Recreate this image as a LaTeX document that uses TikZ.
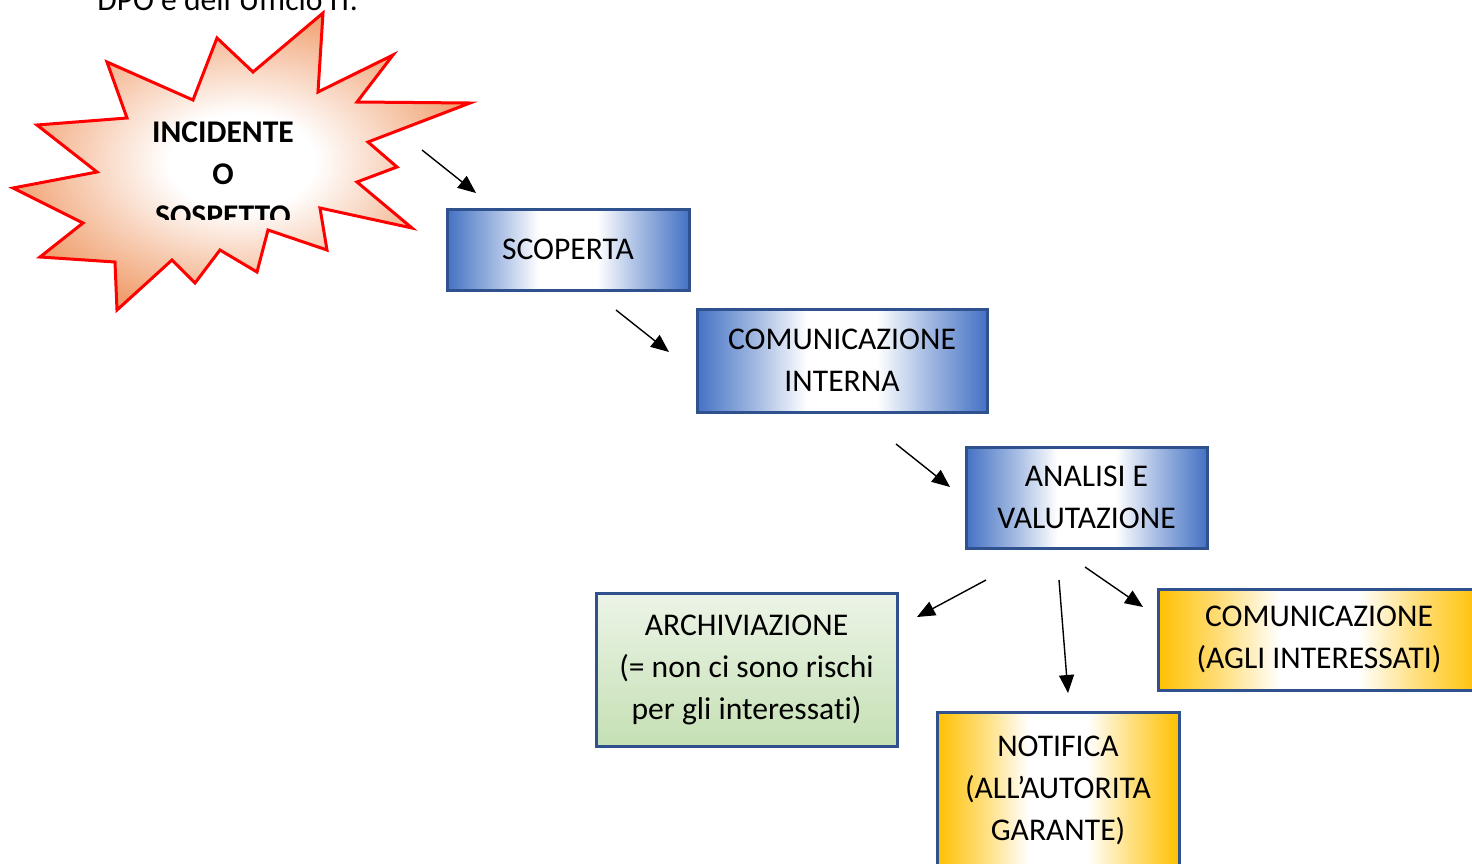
\documentclass[tikz,border=0pt]{standalone}
\usepackage{fontspec}
\setmainfont[Ligatures=NoCommon]{Carlito}
\usetikzlibrary{arrows.meta}
\definecolor{boxblue}{RGB}{68,114,196}
\definecolor{boxline}{RGB}{47,82,143}
\definecolor{boxgold}{RGB}{255,192,0}
\definecolor{greentop}{RGB}{236,244,231}
\definecolor{greenbot}{RGB}{197,224,180}
\definecolor{burstorange}{RGB}{240,160,112}
\colorlet{bluemid}{boxblue!50}
\colorlet{goldmid}{boxgold!50}
\pgfdeclarehorizontalshading{blueband}{100bp}{color(0bp)=(boxblue); color(25bp)=(boxblue); color(35bp)=(bluemid); color(44bp)=(white); color(56bp)=(white); color(65bp)=(bluemid); color(75bp)=(boxblue); color(100bp)=(boxblue)}
\pgfdeclarehorizontalshading{goldband}{100bp}{color(0bp)=(boxgold); color(25bp)=(boxgold); color(35bp)=(goldmid); color(44bp)=(white); color(56bp)=(white); color(65bp)=(goldmid); color(75bp)=(boxgold); color(100bp)=(boxgold)}
\pgfdeclareradialshading{burst}{\pgfpoint{0bp}{0bp}}{color(0bp)=(white); color(8bp)=(white); color(26bp)=(burstorange); color(50bp)=(burstorange)}

\begin{document}
\begin{tikzpicture}[x=0.5pt, y=-0.5pt,
  every node/.style={font=\fontsize{15.8}{21}\selectfont, align=center, inner sep=0pt},
  stepbox/.style={draw=boxline, line width=1.5pt},
  bluebox/.style={stepbox, shading=blueband},
  goldbox/.style={stepbox, shading=goldband},
  greenbox/.style={stepbox, top color=greentop, bottom color=greenbot},
  arr/.style={line width=0.7pt, -{Triangle[length=9pt,width=7.5pt]}}]
\useasboundingbox (0,0) rectangle (1472,863);

\node[anchor=base west] (dpo) at (97,10) {DPO e dell’Ufficio IT.};

% incidente
\shadedraw[shading=burst, draw=red, line width=1.5pt, line join=miter]
  (323,13) -- (318,92) -- (393,55) -- (357,102) -- (470,103) -- (368,142)
  -- (397,167) -- (357,182) -- (412,228) -- (320,208) -- (327,250) -- (268,230)
  -- (257,272) -- (220,250) -- (195,283) -- (172,260) -- (117,310) -- (115,262)
  -- (40,257) -- (83,223) -- (13,188) -- (97,172) -- (37,125) -- (127,118)
  -- (107,62) -- (193,100) -- (217,38) -- (253,72) -- cycle;
\begin{scope}
\clip (100,100) rectangle (350,219);
\node[font=\fontsize{15.8}{21}\selectfont\bfseries] (inc) at (223,174) {INCIDENTE\\O\\SOSPETTO};
\end{scope}

% fasi
\node[bluebox, minimum width=121pt, minimum height=40.5pt] (scop) at (568,249.5) {SCOPERTA};
\node[bluebox, minimum width=145pt, minimum height=51.5pt] (comint) at (842,360.5) {COMUNICAZIONE\\INTERNA};
\node[bluebox, minimum width=120.5pt, minimum height=50.5pt] (anal) at (1086.5,497.5) {ANALISI E\\VALUTAZIONE};
\node[greenbox, minimum width=150.5pt, minimum height=76.5pt] (arch) at (746.5,669.5) {ARCHIVIAZIONE\\(= non ci sono rischi\\per gli interessati)};
\node[goldbox, minimum width=161pt, minimum height=50.5pt] (comint2) at (1319,639.5) {COMUNICAZIONE\\(AGLI INTERESSATI)};
\node[goldbox, minimum width=121pt, minimum height=78pt] (notif) at (1058,790) {NOTIFICA\\(ALL’AUTORITA\\GARANTE)};

% frecce
\coordinate (A1s) at (422,150); \coordinate (A1e) at (476,193);
\coordinate (A2s) at (616,310); \coordinate (A2e) at (669,352);
\coordinate (A3s) at (896,444); \coordinate (A3e) at (950,487);
\coordinate (A4s) at (986,580); \coordinate (A4e) at (917,617);
\coordinate (A5s) at (1059,580); \coordinate (A5e) at (1068,693);
\coordinate (A6s) at (1085,567); \coordinate (A6e) at (1143,607);
\draw[arr] (A1s) -- (A1e);
\draw[arr] (A2s) -- (A2e);
\draw[arr] (A3s) -- (A3e);
\draw[arr] (A4s) -- (A4e);
\draw[arr] (A5s) -- (A5e);
\draw[arr] (A6s) -- (A6e);
\end{tikzpicture}
\end{document}
